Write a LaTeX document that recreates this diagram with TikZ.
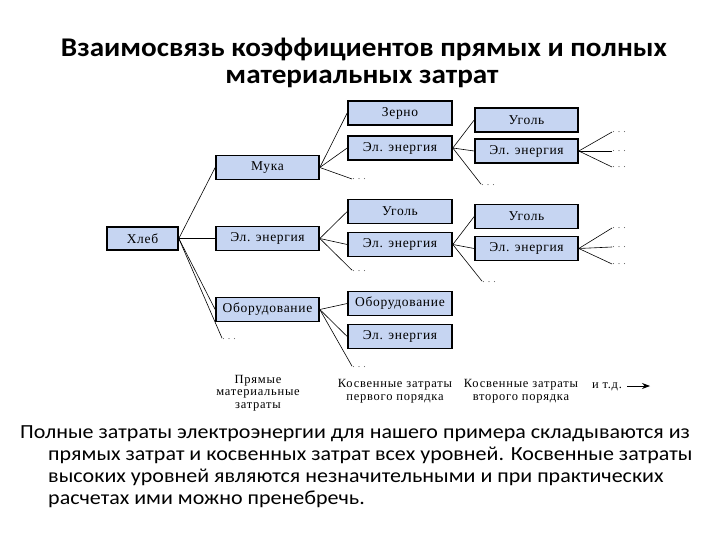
\documentclass[tikz,border=0pt]{standalone}
\usepackage{fontspec}
\setmainfont{Carlito}
\newfontfamily\boxfont[LetterSpace=5]{Liberation Serif}
\newfontfamily\labfont[LetterSpace=6]{Liberation Serif}
\newfontfamily\dotfont[LetterSpace=30]{Liberation Serif}
\usetikzlibrary{arrows.meta}
\definecolor{boxblue}{HTML}{C6D5F2}
\begin{document}
\begin{tikzpicture}[x=1pt,y=-1pt,
  bx/.style={draw=black, line width=1.6pt, fill=boxblue, minimum width=103pt, minimum height=24pt, inner sep=0pt, font=\boxfont\fontsize{13.5}{15}\selectfont},
  dts/.style={inner sep=0pt, text=gray!80!black, font=\dotfont\fontsize{10}{10}\selectfont},
  ln/.style={line width=0.6pt, black},
  lab/.style={align=center, inner sep=0pt, font=\labfont\fontsize{12.5}{12.5}\selectfont},
  ttl/.style={inner sep=0pt, anchor=base, xscale=1.08, font=\bfseries\fontsize{27}{28}\selectfont},
  para/.style={anchor=base west, inner sep=0pt, xscale=1.1, font=\fontsize{20}{22}\selectfont}]
\useasboundingbox (0,0) rectangle (720,540);
% title
\node[ttl] (t1) at (364,57) {Взаимосвязь коэффициентов прямых и полных};
\node[ttl] (t2) at (362,84) {материальных затрат};
% level 0
\node[bx, minimum width=71pt, minimum height=23pt] (hleb) at (142.5,238.5) {Хлеб};
% level 1
\node[bx] (muka) at (267.5,167.5) {Мука};
\node[bx] (el1) at (267.5,238.5) {Эл. энергия};
\node[bx] (ob1) at (267.5,309.5) {Оборудование};
\node[dts] (d1) at (229,339) {...};
% level 2
\node[bx, minimum width=104pt] (zer) at (400,113) {Зерно};
\node[bx, minimum width=104pt] (el2a) at (400,148) {Эл. энергия};
\node[dts] (d2a) at (359,179) {...};
\node[bx, minimum width=104pt] (ug2) at (400,211.5) {Уголь};
\node[bx, minimum width=104pt] (el2b) at (400,244.5) {Эл. энергия};
\node[dts] (d2b) at (359,271) {...};
\node[bx, minimum width=104pt] (ob2) at (400,303.5) {Оборудование};
\node[bx, minimum width=104pt] (el2c) at (400,336.5) {Эл. энергия};
\node[dts] (d2c) at (359,367) {...};
% level 3
\node[bx] (ug3a) at (526.5,120) {Уголь};
\node[bx] (el3a) at (526.5,151) {Эл. энергия};
\node[dts] (d3a) at (488,185) {...};
\node[bx] (ug3b) at (526.5,216.5) {Уголь};
\node[bx] (el3b) at (526.5,248.5) {Эл. энергия};
\node[dts] (d3b) at (489,282) {...};
% level 4 dots
\node[dts] (d4a) at (619,132) {...};
\node[dts] (d4b) at (619,151) {...};
\node[dts] (d4c) at (619,167) {...};
\node[dts] (d4d) at (619,228) {...};
\node[dts] (d4e) at (619,247) {...};
\node[dts] (d4f) at (619,264) {...};
% connectors
\foreach \a in {muka,el1,ob1} \draw[ln] (hleb.east) -- (\a.west);
\draw[ln] (hleb.east) -- (d1.north west);
\foreach \a in {zer,el2a} \draw[ln] (muka.east) -- (\a.west);
\draw[ln] (muka.east) -- (d2a.west);
\foreach \a in {ug2,el2b} \draw[ln] (el1.east) -- (\a.west);
\draw[ln] (el1.east) -- (d2b.north west);
\foreach \a in {ob2,el2c} \draw[ln] (ob1.east) -- (\a.west);
\draw[ln] (ob1.east) -- (d2c.north west);
\foreach \a in {ug3a,el3a} \draw[ln] (el2a.east) -- (\a.west);
\draw[ln] (el2a.east) -- (d3a.north west);
\foreach \a in {ug3b,el3b} \draw[ln] (el2b.east) -- (\a.west);
\draw[ln] (el2b.east) -- (d3b.north west);
\foreach \a in {d4a,d4b,d4c} \draw[ln] (el3a.east) -- (\a.west);
\foreach \a in {d4d,d4e,d4f} \draw[ln] (el3b.east) -- (\a.west);
% bottom labels
\node[lab] (l1) at (258,393) {Прямые\\материальные\\затраты};
\node[lab] (l2) at (395,391) {Косвенные затраты\\первого порядка};
\node[lab] (l3) at (521,391) {Косвенные затраты\\второго порядка};
\node[lab] (l4) at (607,387) {и т.д.};
\coordinate (a1) at (627,386);
\coordinate (a2) at (650,386);
\draw[line width=0.8pt, -{Stealth[length=8pt,width=6pt]}] (a1) -- (a2);
% paragraph
\node[para] (p1) at (20,438) {Полные затраты электроэнергии для нашего примера складываются из};
\node[para] (p2) at (48,460) {прямых затрат и косвенных затрат всех уровней. Косвенные затраты};
\node[para] (p3) at (48,482) {высоких уровней являются незначительными и при практических};
\node[para] (p4) at (48,504) {расчетах ими можно пренебречь.};
\end{tikzpicture}
\end{document}
